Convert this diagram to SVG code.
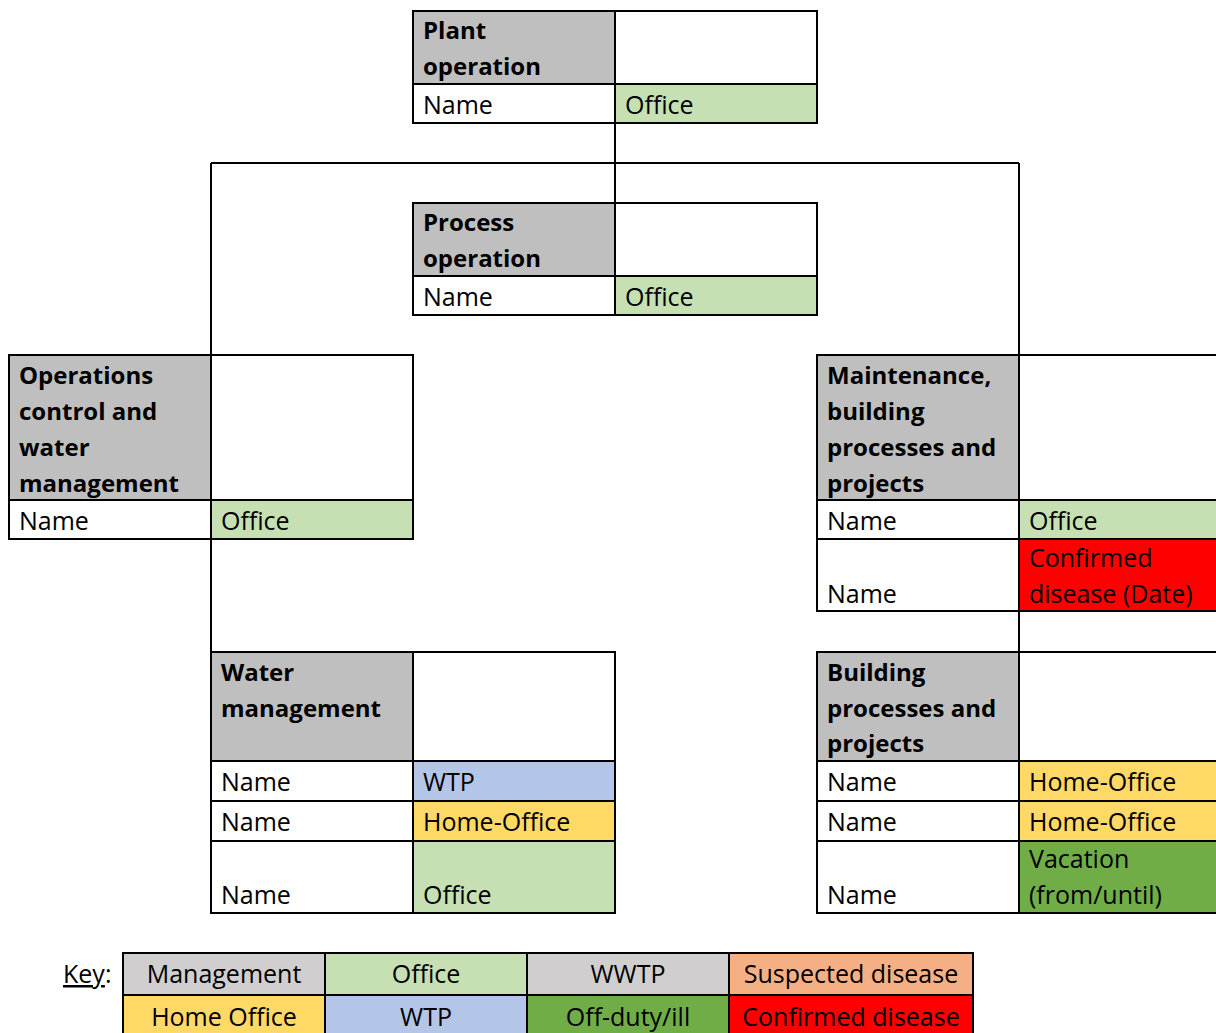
<svg xmlns="http://www.w3.org/2000/svg" width="1216" height="1033" viewBox="0 0 1216 1033">
<style>
rect{stroke:#000;stroke-width:2}
.h{fill:#BFBFBF}
.w{fill:#FFFFFF}
.g{fill:#C6E0B4}
.b{fill:#B4C6E7}
.y{fill:#FFD966}
.d{fill:#70AD47}
.r{fill:#FF0000}
.s{fill:#F4B084}
.k{fill:#D0CECE}
text{font-family:"Open Sans","Noto Sans",sans-serif;font-size:25px;fill:#000}
.t{font-weight:bold;font-size:24px}
.c{text-anchor:middle}
.conn{stroke:#000;stroke-width:2;fill:none}
</style>
<rect x="-10" y="-10" width="1240" height="1060" style="fill:#fff;stroke:none"/>
<g id="connectors">
<path class="conn" d="M615 123V203M211 163H1019M211 163V355M1019 163V355M211 539V652M1019 611V652"/>
</g>
<g id="plant-operation">
<rect class="h" x="413" y="11" width="202" height="73"/>
<rect class="w" x="615" y="11" width="202" height="73"/>
<rect class="w" x="413" y="84" width="202" height="39"/>
<rect class="g" x="615" y="84" width="202" height="39"/>
<text class="t" x="423" y="39">Plant</text>
<text class="t" x="423" y="75">operation</text>
<text x="423" y="114">Name</text>
<text x="625" y="114">Office</text>
</g>
<g id="process-operation">
<rect class="h" x="413" y="203" width="202" height="73"/>
<rect class="w" x="615" y="203" width="202" height="73"/>
<rect class="w" x="413" y="276" width="202" height="39"/>
<rect class="g" x="615" y="276" width="202" height="39"/>
<text class="t" x="423" y="231">Process</text>
<text class="t" x="423" y="267">operation</text>
<text x="423" y="306">Name</text>
<text x="625" y="306">Office</text>
</g>
<g id="operations-control">
<rect class="h" x="9" y="355" width="202" height="145"/>
<rect class="w" x="211" y="355" width="202" height="145"/>
<rect class="w" x="9" y="500" width="202" height="39"/>
<rect class="g" x="211" y="500" width="202" height="39"/>
<text class="t" x="19" y="384">Operations</text>
<text class="t" x="19" y="420">control and</text>
<text class="t" x="19" y="456">water</text>
<text class="t" x="19" y="492">management</text>
<text x="19" y="530">Name</text>
<text x="221" y="530">Office</text>
</g>
<g id="maintenance">
<rect class="h" x="817" y="355" width="202" height="145"/>
<rect class="w" x="1019" y="355" width="220" height="145"/>
<rect class="w" x="817" y="500" width="202" height="39"/>
<rect class="g" x="1019" y="500" width="220" height="39"/>
<rect class="w" x="817" y="539" width="202" height="72"/>
<rect class="r" x="1019" y="539" width="220" height="72"/>
<text class="t" x="827" y="384">Maintenance,</text>
<text class="t" x="827" y="420">building</text>
<text class="t" x="827" y="456">processes and</text>
<text class="t" x="827" y="492">projects</text>
<text x="827" y="530">Name</text>
<text x="1029" y="530">Office</text>
<text x="827" y="603">Name</text>
<text x="1029" y="567">Confirmed</text>
<text x="1029" y="603">disease (Date)</text>
</g>
<g id="water-management">
<rect class="h" x="211" y="652" width="202" height="109"/>
<rect class="w" x="413" y="652" width="202" height="109"/>
<rect class="w" x="211" y="761" width="202" height="40"/>
<rect class="b" x="413" y="761" width="202" height="40"/>
<rect class="w" x="211" y="801" width="202" height="40"/>
<rect class="y" x="413" y="801" width="202" height="40"/>
<rect class="w" x="211" y="841" width="202" height="72"/>
<rect class="g" x="413" y="841" width="202" height="72"/>
<text class="t" x="221" y="681">Water</text>
<text class="t" x="221" y="717">management</text>
<text x="221" y="791">Name</text>
<text x="423" y="791">WTP</text>
<text x="221" y="831">Name</text>
<text x="423" y="831">Home-Office</text>
<text x="221" y="904">Name</text>
<text x="423" y="904">Office</text>
</g>
<g id="building-processes">
<rect class="h" x="817" y="652" width="202" height="109"/>
<rect class="w" x="1019" y="652" width="220" height="109"/>
<rect class="w" x="817" y="761" width="202" height="40"/>
<rect class="y" x="1019" y="761" width="220" height="40"/>
<rect class="w" x="817" y="801" width="202" height="40"/>
<rect class="y" x="1019" y="801" width="220" height="40"/>
<rect class="w" x="817" y="841" width="202" height="72"/>
<rect class="d" x="1019" y="841" width="220" height="72"/>
<text class="t" x="827" y="681">Building</text>
<text class="t" x="827" y="717">processes and</text>
<text class="t" x="827" y="752">projects</text>
<text x="827" y="791">Name</text>
<text x="1029" y="791">Home-Office</text>
<text x="827" y="831">Name</text>
<text x="1029" y="831">Home-Office</text>
<text x="827" y="904">Name</text>
<text x="1029" y="868">Vacation</text>
<text x="1029" y="904">(from/until)</text>
</g>
<g id="key">
<text x="63" y="983"><tspan text-decoration="underline">Key</tspan>:</text>
<rect class="k" x="123" y="953" width="202" height="42"/>
<rect class="g" x="325" y="953" width="202" height="42"/>
<rect class="k" x="527" y="953" width="202" height="42"/>
<rect class="s" x="729" y="953" width="244" height="42"/>
<rect class="y" x="123" y="995" width="202" height="50"/>
<rect class="b" x="325" y="995" width="202" height="50"/>
<rect class="d" x="527" y="995" width="202" height="50"/>
<rect class="r" x="729" y="995" width="244" height="50"/>
<text class="c" x="224" y="983">Management</text>
<text class="c" x="426" y="983">Office</text>
<text class="c" x="628" y="983">WWTP</text>
<text class="c" x="851" y="983">Suspected disease</text>
<text class="c" x="224" y="1026">Home Office</text>
<text class="c" x="426" y="1026">WTP</text>
<text class="c" x="628" y="1026">Off-duty/ill</text>
<text class="c" x="851" y="1026">Confirmed disease</text>
</g>
</svg>
